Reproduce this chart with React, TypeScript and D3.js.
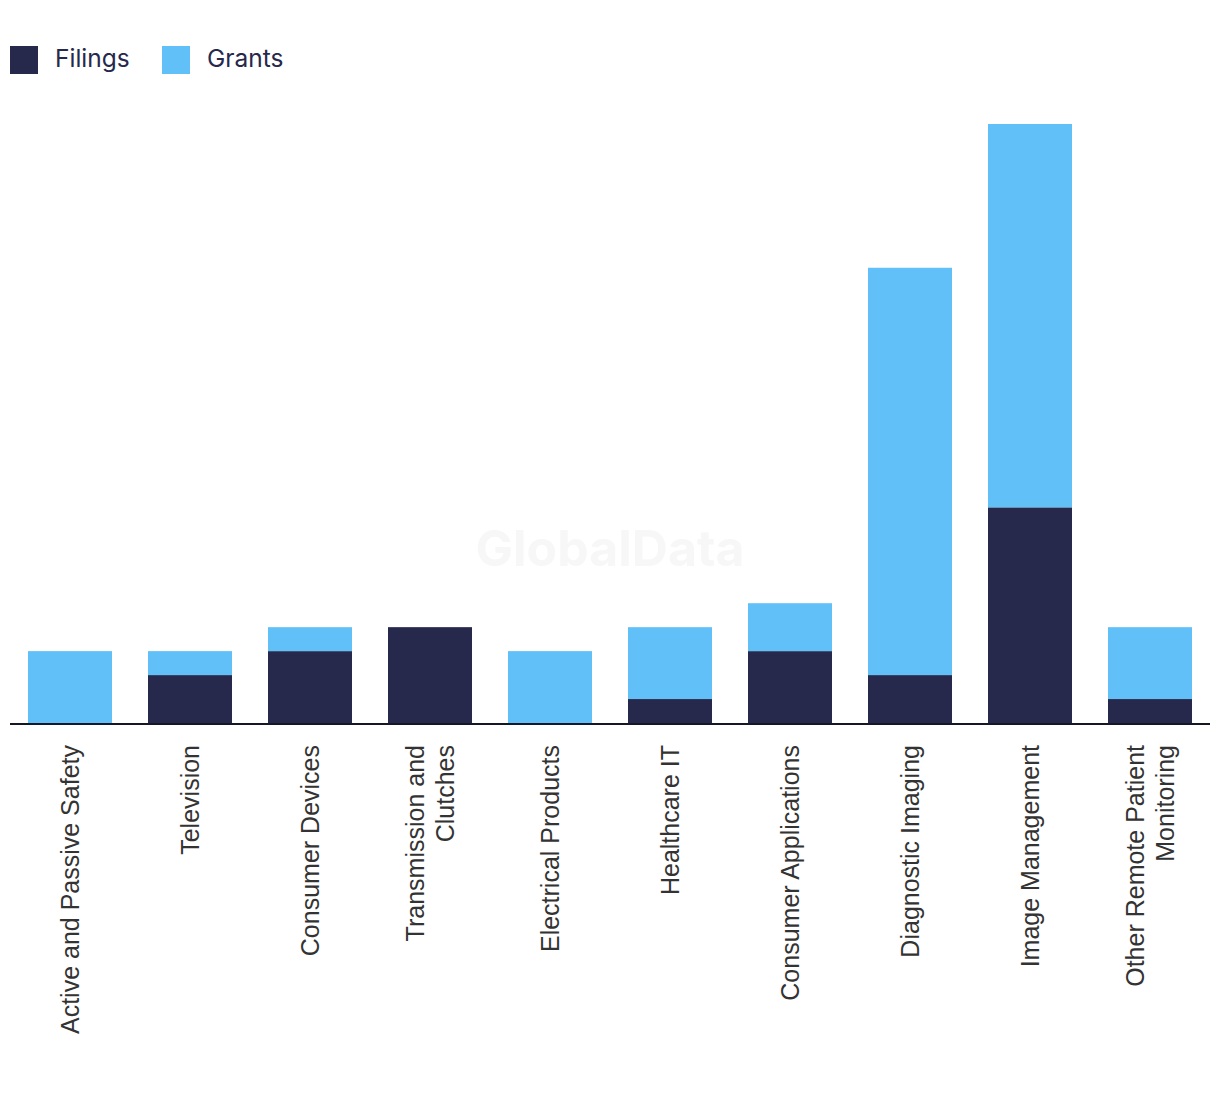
import React from "react";
import * as d3 from "d3";

const categories = [
  "Active and Passive Safety",
  "Television",
  "Consumer Devices",
  "Transmission and Clutches",
  "Electrical Products",
  "Healthcare IT",
  "Consumer Applications",
  "Diagnostic Imaging",
  "Image Management",
  "Other Remote Patient Monitoring",
];
const labelLines: string[][] = [
  ["Active and Passive Safety"],
  ["Television"],
  ["Consumer Devices"],
  ["Transmission and", "Clutches"],
  ["Electrical Products"],
  ["Healthcare IT"],
  ["Consumer Applications"],
  ["Diagnostic Imaging"],
  ["Image Management"],
  ["Other Remote Patient", "Monitoring"],
];
const filings = [0, 2, 3, 4, 0, 1, 3, 2, 9, 1];
const grants = [3, 1, 1, 0, 3, 3, 2, 17, 16, 3];
const seriesNames = ["Filings", "Grants"];
const colors = ["#26284c", "#62c0f9"];

const W = 1220;
const H = 1094;
const baseY = 723;

export default function App() {
  const x = d3.scaleBand<string>().domain(categories).range([10, 1210]).paddingInner(0.3).paddingOuter(0.15);
  const y = d3.scaleLinear().domain([0, 25]).range([baseY, 124]);
  const rows = categories.map((c, i) => ({ cat: c, Filings: filings[i], Grants: grants[i] }));
  const stacked = d3.stack<any>().keys(seriesNames)(rows);
  const lineH = 30;
  return (
    <div style={{ position: "absolute", left: 0, top: 0 }}>
      <svg width={W} height={H} style={{ display: "block", background: "#fff" }}>
        <text x={610} y={548} textAnchor="middle" dominantBaseline="central" fontFamily="Inter, 'Liberation Sans', sans-serif" fontWeight={700} fontSize={50} fill="#f7f7f7">GlobalData</text>
        {seriesNames.map((s, i) => {
          const lx = i === 0 ? 10 : 162;
          return (
            <g key={s}>
              <rect x={lx} y={46} width={28} height={28} fill={colors[i]} />
              <text x={lx + 45} y={58} dominantBaseline="central" fontFamily="Inter, 'Noto Sans', sans-serif" fontSize={24.5} fill="#26284c">{s}</text>
            </g>
          );
        })}
        {stacked.map((layer, si) => (
          <g key={layer.key} fill={colors[si]}>
            {layer.map((d, i) => {
              const h = y(d[0]) - y(d[1]);
              if (h <= 0) return null;
              return <rect key={i} x={x(categories[i])} y={y(d[1])} width={x.bandwidth()} height={h} />;
            })}
          </g>
        ))}
        <line x1={10} x2={1210} y1={baseY + 1} y2={baseY + 1} stroke="#151628" strokeWidth={2} />
        {categories.map((c, i) => {
          const cx = (x(c) as number) + x.bandwidth() / 2;
          const lines = labelLines[i];
          const n = lines.length;
          return (
            <g key={c} transform={`translate(${cx},${baseY + 22}) rotate(-90)`}>
              {lines.map((ln, j) => (
                <text key={j} x={0} y={(j - (n - 1) / 2) * lineH} textAnchor="end" dominantBaseline="central" fontFamily="'Liberation Sans', Arial, sans-serif" fontSize={25} fill="#333">{ln}</text>
              ))}
            </g>
          );
        })}
      </svg>
    </div>
  );
}
